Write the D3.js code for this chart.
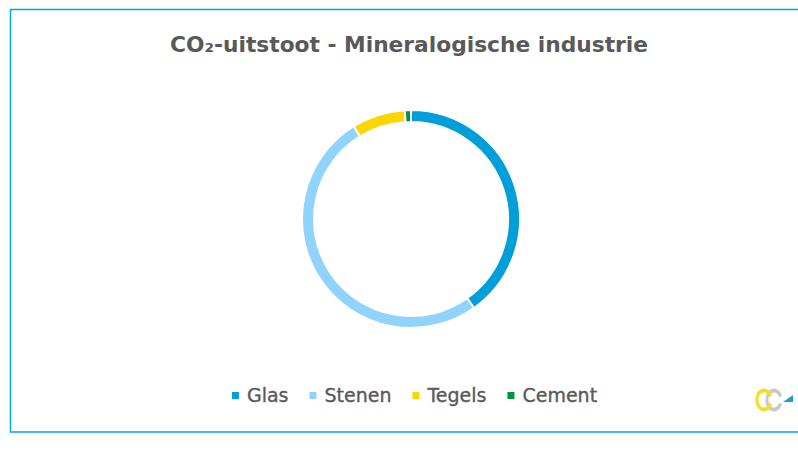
<!DOCTYPE html>
<html><head><meta charset="utf-8">
<script src="https://cdn.jsdelivr.net/npm/d3@7"></script>
<style>html,body{margin:0;padding:0;background:#fff;overflow:hidden}</style>
</head><body>
<svg id="c" width="798" height="458"></svg>
<script>
const title = "CO₂-uitstoot - Mineralogische industrie";
const categories = ["Glas", "Stenen", "Tegels", "Cement"];
const values = [40.2, 51.0, 7.9, 0.9];
const colors = ["#009fda", "#8fd3fe", "#ffd500", "#00953a"];

const svg = d3.select("#c");
const font = "'DejaVu Sans', Verdana, sans-serif";

svg.append("rect").attr("x", 10.5).attr("y", 9.5).attr("width", 800).attr("height", 422.5)
  .attr("fill", "#fff").attr("stroke", "#00a6e6").attr("stroke-width", 1.5);

svg.append("text").attr("x", 409).attr("y", 52).attr("text-anchor", "middle")
  .attr("font-family", "'DejaVu Sans Condensed', 'DejaVu Sans', sans-serif")
  .attr("font-weight", "bold").attr("font-size", 22)
  .attr("fill", "#595959").text(title)
  .attr("textLength", 478).attr("lengthAdjust", "spacingAndGlyphs");

const data = categories.map((c, i) => ({ name: c, value: values[i], color: colors[i] }));
const pie = d3.pie().value(d => d.value).sort(null);
const arc = d3.arc().innerRadius(97).outerRadius(109);
const g = svg.append("g").attr("transform", "translate(411,219)");
g.selectAll("path").data(pie(data)).join("path")
  .attr("d", arc).attr("fill", d => d.data.color)
  .attr("stroke", "#fff").attr("stroke-width", 2);

// legend
const lg = svg.append("g");
const items = lg.selectAll("g").data(data).join("g");
items.append("rect").attr("width", 7).attr("height", 7).attr("y", -10).attr("fill", d => d.color);
items.append("text").attr("x", 15).attr("y", 0)
  .attr("font-family", font).attr("font-size", 19).attr("fill", "#595959")
  .attr("stroke", "#595959").attr("stroke-width", 0.35)
  .text(d => d.name);
let x = 0;
const gap = 21;
items.each(function () {
  const w = this.getBBox().width;
  d3.select(this).attr("transform", `translate(${x},0)`);
  x += w + gap;
});
const total = x - gap;
lg.attr("transform", `translate(${414.5 - total / 2},402)`);

// small logo
const logo = svg.append("g").attr("transform", "translate(0,400)");
const cArc = d3.arc().innerRadius(7.5).outerRadius(11.5).startAngle(0.62 * Math.PI).endAngle(2.38 * Math.PI);
logo.append("path").attr("d", cArc()).attr("fill", "#c8c8c8").attr("transform", "translate(774,0) scale(0.75,1)");
logo.append("path").attr("d", cArc()).attr("fill", "#f1df2a").attr("transform", "translate(764,0) scale(0.75,1)");
logo.append("path").attr("d", "M783,2 L793,2 L793,-5 Z").attr("fill", "#1e9be0");
</script>
</body></html>
